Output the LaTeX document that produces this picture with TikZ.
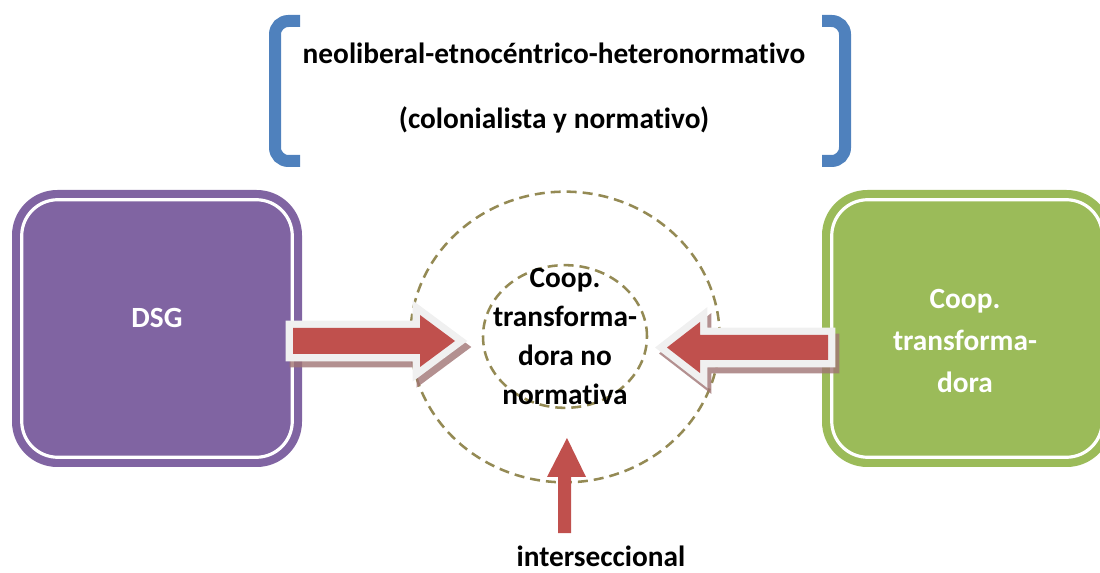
\documentclass[tikz,border=0pt]{standalone}
\usepackage{fontspec}
\setmainfont{Carlito}[Ligatures=NoCommon]
\usetikzlibrary{shapes.geometric,calc}
\definecolor{purp}{HTML}{8064A2}
\definecolor{grn}{HTML}{9BBB59}
\definecolor{blu}{HTML}{4F81BD}
\definecolor{arrred}{HTML}{C0504D}
\definecolor{olivec}{HTML}{948A54}
\definecolor{lgray}{HTML}{F0F0F0}
\definecolor{shad}{HTML}{A07474}
\begin{document}
\begin{tikzpicture}[x=0.75pt,y=-0.75pt,
  bigbox/.style={rectangle, rounded corners=34pt, minimum width=217.5pt, minimum height=207.75pt, inner sep=0pt},
  innerline/.style={draw=white, line width=2.4pt, rounded corners=27pt},
  dashring/.style={draw=olivec, ellipse, line width=1.9pt, dash pattern=on 7.5pt off 4.5pt, inner sep=0pt},
  lbl/.style={font=\bfseries\fontsize{22}{29}\selectfont, align=center, inner sep=0pt},
  whitelbl/.style={lbl, text=white},
  bracketline/.style={draw=blu, line width=9pt, rounded corners=10pt},
  arrborder/.style={draw=lgray, fill=lgray, line width=11pt, line join=miter},
  arrshadow/.style={draw=shad, fill=shad, line width=11pt, line join=miter, opacity=0.8},
  arrfill/.style={fill=arrred}
]
\useasboundingbox (0,0) rectangle (1100,573);
\clip (0,0) rectangle (1100,573);

% brackets
\draw[bracketline] (300,21) -- (275,21) -- (275,161) -- (300,161);
\draw[bracketline] (822,21) -- (845,21) -- (845,161) -- (822,161);
\node[lbl] (t1) at (554,53) {neoliberal-etnocéntrico-heteronormativo};
\node[lbl] (t2) at (554,120) {(colonialista y normativo)};

% boxes
\node[bigbox, fill=purp] (dsg) at (157,328.5) {};
\draw[innerline] ($(dsg.north west)+(10,10)$) rectangle ($(dsg.south east)+(-10,-10)$);
\node[whitelbl] (dsgt) at (157,318) {DSG};

\node[bigbox, fill=grn] (ct) at (967,328.5) {};
\draw[innerline] ($(ct.north west)+(10,10)$) rectangle ($(ct.south east)+(-10,-10)$);
\node[whitelbl, font=\bfseries\fontsize{22}{31.5}\selectfont] (ctt) at (965,341) {Coop.\\transforma-\\dora};

% circles
\node[dashring, minimum width=232pt, minimum height=218pt] (outer) at (565,337) {};
\node[dashring, minimum width=123pt, minimum height=107pt] (inner) at (565,336.5) {};
\node[lbl, font=\bfseries\fontsize{22}{29.25}\selectfont] (ctn) at (565,336.5) {Coop.\\transforma-\\dora no\\normativa};

% right-pointing arrow
\fill[arrshadow] (297,334) -- (424,334) -- (424,321) -- (459,347) -- (424,373) -- (424,360) -- (297,360) -- cycle;
\fill[arrborder] (293,328) -- (420,328) -- (420,315) -- (455,341) -- (420,367) -- (420,354) -- (293,354) -- cycle;
\fill[arrfill] (293,328) -- (420,328) -- (420,315) -- (455,341) -- (420,367) -- (420,354) -- (293,354) -- cycle;

% left-pointing arrow
\fill[arrshadow] (832,341) -- (704,341) -- (704,328) -- (671,353.5) -- (704,379) -- (704,366) -- (832,366) -- cycle;
\fill[arrborder] (828,335) -- (700,335) -- (700,322) -- (667,347.5) -- (700,373) -- (700,360) -- (828,360) -- cycle;
\fill[arrfill] (828,335) -- (700,335) -- (700,322) -- (667,347.5) -- (700,373) -- (700,360) -- (828,360) -- cycle;

% bottom arrow
\fill[arrfill] (558,533) -- (558,477) -- (547,477) -- (567,438) -- (586,477) -- (571,477) -- (571,533) -- cycle;
\node[lbl] (inter) at (601,556) {interseccional};
\end{tikzpicture}
\end{document}
